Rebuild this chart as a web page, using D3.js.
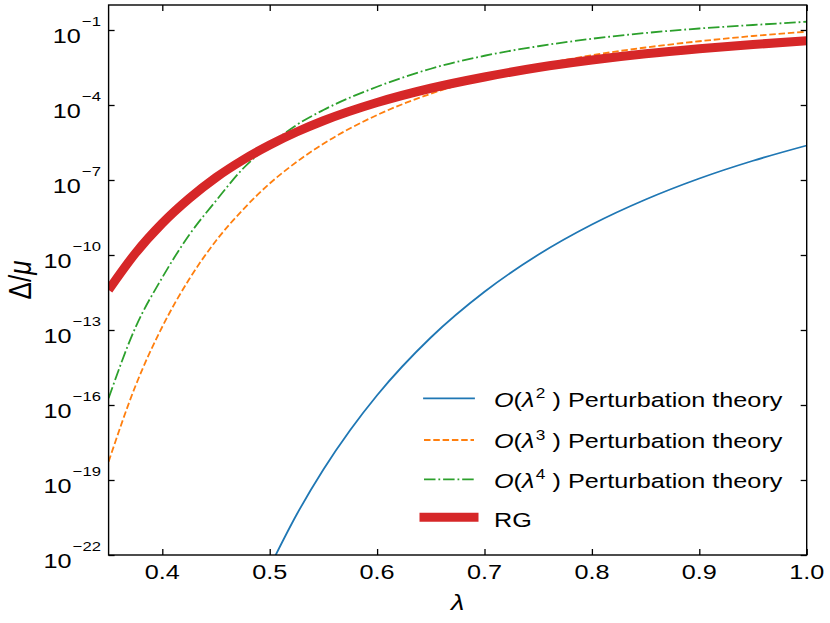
<!DOCTYPE html>
<html>
<head>
<meta charset="utf-8">
<script src="https://cdn.jsdelivr.net/npm/d3@7"></script>
<style>
body{margin:0;background:#fff}
text{font-family:"Liberation Sans",Arial,sans-serif;fill:#000}
</style>
</head>
<body>
<div id="chart"></div>
<script>
// lambda grid and log10(Delta/mu)
var lambdas=[0.35,0.375,0.40,0.425,0.45,0.475,0.50,0.525,0.55,0.60,0.65,0.70,0.75,0.80,0.85,0.90,0.95,1.00];
var rgExp =[-11.4,-9.93,-8.73,-7.74,-6.9,-6.2,-5.6,-5.08,-4.63,-3.9,-3.33,-2.88,-2.5,-2.2,-1.95,-1.75,-1.58,-1.43];
var pt4Exp=[-15.73,-12.9,-10.9,-9.2,-7.83,-6.55,-5.6,-4.8,-4.2,-3.27,-2.55,-2.03,-1.65,-1.35,-1.12,-0.94,-0.8,-0.67];
var pt3Exp=[-18.27,-15.24,-12.87,-10.97,-9.43,-8.19,-7.14,-6.28,-5.55,-4.4,-3.55,-2.9,-2.41,-2.01,-1.7,-1.45,-1.24,-1.07];
var pt2Lambdas=[0.50,0.525,0.55,0.575,0.60,0.65,0.70,0.75,0.80,0.85,0.90,0.95,1.00];
var pt2Exp=[-22.48,-20.39,-18.58,-17.0,-15.61,-13.3,-11.47,-9.99,-8.78,-7.78,-6.94,-6.23,-5.62];

var yTickExp=[-1,-4,-7,-10,-13,-16,-19,-22];
var xTicks=[0.4,0.5,0.6,0.7,0.8,0.9,1.0];
var legendOrders=["2","3","4"];

var W=830,H=623;
var SX=1.23; // text in the picture is a bit wider than tall
var plotL=108.6,plotR=806.7,plotT=5,plotB=555;

var svg=d3.select("#chart").append("svg")
	.attr("width",W)
	.attr("height",H);

var x=d3.scaleLinear().domain([0.35,1.0]).range([plotL,plotR]);
var y=d3.scaleLog().domain([1e-22,1]).range([plotB,plotT]);

svg.append("clipPath").attr("id","plotclip")
	.append("rect")
	.attr("x",plotL).attr("y",plotT)
	.attr("width",plotR-plotL).attr("height",plotB-plotT);

function pairs(ls,es){
	return ls.map(function(l,i){return [l,Math.pow(10,es[i])];});
}
var line=d3.line()
	.x(function(d){return x(d[0]);})
	.y(function(d){return y(d[1]);})
	.curve(d3.curveMonotoneX);

var styles=[
	{color:"#1f77b4",width:1.8,dash:null},
	{color:"#ff7f0e",width:1.8,dash:"6.5,2.8"},
	{color:"#2ca02c",width:1.8,dash:"11.5,2.9,1.8,2.9"},
	{color:"#d62728",width:9,dash:null}
];
var data=[pairs(pt2Lambdas,pt2Exp),pairs(lambdas,pt3Exp),pairs(lambdas,pt4Exp),pairs(lambdas,rgExp)];

var plot=svg.append("g").attr("clip-path","url(#plotclip)");
data.forEach(function(d,i){
	plot.append("path")
		.datum(d)
		.attr("d",line)
		.attr("fill","none")
		.attr("stroke",styles[i].color)
		.attr("stroke-width",styles[i].width)
		.attr("stroke-dasharray",styles[i].dash);
});

// axes, ticks pointing in on all four sides
function styleAxis(g){
	g.select(".domain").remove();
	g.selectAll(".tick line").attr("stroke","#000").attr("stroke-width",1.3);
	g.selectAll(".tick text").remove();
}
var yVals=yTickExp.map(function(e){return Math.pow(10,e);});
svg.append("g").attr("transform","translate("+plotL+",0)")
	.call(d3.axisLeft(y).tickValues(yVals).tickSizeInner(-6).tickSizeOuter(0)).call(styleAxis);
svg.append("g").attr("transform","translate("+plotR+",0)")
	.call(d3.axisRight(y).tickValues(yVals).tickSizeInner(-6).tickSizeOuter(0)).call(styleAxis);
svg.append("g").attr("transform","translate(0,"+plotB+")")
	.call(d3.axisBottom(x).tickValues(xTicks).tickSizeInner(-6).tickSizeOuter(0)).call(styleAxis);
svg.append("g").attr("transform","translate(0,"+plotT+")")
	.call(d3.axisTop(x).tickValues(xTicks).tickSizeInner(-6).tickSizeOuter(0)).call(styleAxis);

svg.append("rect")
	.attr("x",plotL).attr("y",plotT)
	.attr("width",plotR-plotL).attr("height",plotB-plotT)
	.attr("fill","none").attr("stroke","#000").attr("stroke-width",1.4);

function stretched(px,py,extra){
	return svg.append("g")
		.attr("transform","translate("+px+","+py+") scale("+SX+",1)"+(extra||""))
		.append("text");
}

// y tick labels 10^n
yTickExp.forEach(function(e){
	var t=stretched(101,y(Math.pow(10,e)))
		.attr("text-anchor","end")
		.attr("font-size",20.5);
	t.append("tspan").attr("y",13.3).text("10");
	t.append("tspan").attr("dx",1).attr("dy",-17.3).attr("font-size",13.5).text("\u2212"+Math.abs(e));
});

// x tick labels
xTicks.forEach(function(v){
	stretched(x(v),579)
		.attr("text-anchor","middle")
		.attr("font-size",20.5)
		.text(d3.format(".1f")(v));
});

// axis titles
stretched(457.6,610)
	.attr("text-anchor","middle")
	.attr("font-size",22)
	.attr("font-style","italic")
	.text("\u03bb");
var yl=stretched(31,280," rotate(-90)")
	.attr("text-anchor","middle")
	.attr("font-size",26);
yl.append("tspan").text("\u0394/");
yl.append("tspan").attr("font-style","italic").text("\u03bc");

// legend
var legendY=[398.3,440,479.3,517.3];
styles.forEach(function(s,i){
	svg.append("line")
		.attr("x1",424).attr("x2",474)
		.attr("y1",legendY[i]).attr("y2",legendY[i])
		.attr("stroke",s.color)
		.attr("stroke-width",s.width)
		.attr("stroke-linecap",s.dash?"butt":"square")
		.attr("stroke-dasharray",s.dash);
	var t=stretched(494,legendY[i]+(i<3?8.4:9.4)).attr("font-size",20.5);
	if(i<3){
		t.append("tspan").attr("font-style","italic").text("O");
		t.append("tspan").text("(");
		t.append("tspan").attr("font-style","italic").text("\u03bb");
		t.append("tspan").attr("dx",1).attr("dy",-8.5).attr("font-size",14).text(legendOrders[i]);
		t.append("tspan").attr("dx",6).attr("dy",8.5).text(")");
		t.append("tspan").text(" Perturbation theory");
	} else {
		t.text("RG");
	}
});
</script>
</body>
</html>
